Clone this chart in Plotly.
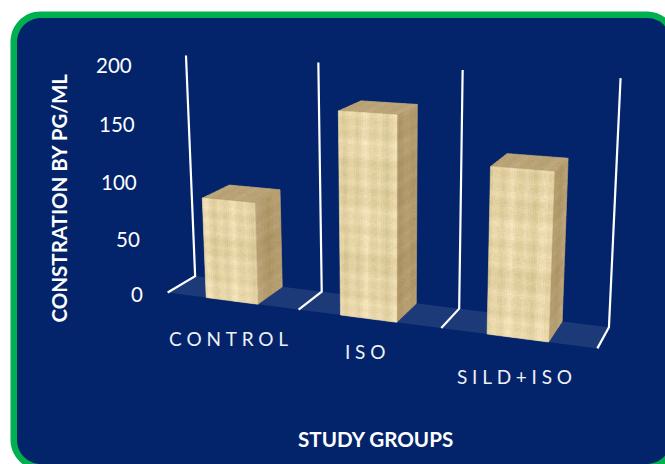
import math
import numpy as np
import plotly.graph_objects as go

# Chart content
groups = ["CONTROL", "ISO", "SILD+ISO"]
concentration = [88, 170, 135]
value_ticks = [0, 50, 100, 150, 200]
value_max = 200
y_title = "CONSTRATION BY PG/ML"
x_title = "STUDY GROUPS"

# Box geometry in category units: width along the category axis, depth 0 (front) to 1 (back)
BAR_WIDTH = 0.394
SEP = "\u2005"  # letter spacing for the category labels

# Perspective of the 3-D view: (category, depth, value / 100, 1) -> canvas
VIEW = np.array([
    [121.1409115, 36.3899044, -9.2879556, 231.7567399],
    [4.3640775, -5.0005386, -118.6259112, 300.8692165],
    [-0.0420273, 0.0427482, -0.02375, 1.0],
])

W, H = 665, 464
NAVY, GREEN, FLOOR = "#03246B", "#00B050", "#1C3A78"


def view(cat, depth, value):
    h = VIEW @ np.array([cat, depth, value / 100.0, 1.0])
    return float(h[0] / h[2]), float(h[1] / h[2])


def weave(a, b):
    """Wood-like plaid in [-1, 1] from a pair of cell indices."""
    s = (0.34 * math.sin(a * 0.97 + 0.6) + 0.24 * math.sin(a * 0.41 + 2.1) + 0.07 * math.sin(a * 2.3)
         + 0.22 * math.sin(b * 1.13 + 1.1) + 0.20 * math.sin(b * 0.47) + 0.16 * math.sin(b * 0.19 + 0.4)
         + 0.05 * math.sin(a * 1.7 + b * 2.3))
    return max(-1.0, min(1.0, s))


LEVELS = 13
FACES = {
    "side": ((183, 158, 110), 11),
    "top": ((188, 165, 117), 8),
    "front": ((233, 215, 167), 17),
}
cells = {name: [([], []) for _ in range(LEVELS)] for name in FACES}


def add_face(name, corner, du, dv, nu, nv):
    for b in range(nv):
        for a in range(nu):
            level = int(round((weave(a + 3 * corner[0], b) + 1) / 2 * (LEVELS - 1)))
            xs, ys = cells[name][level]
            quad = [(a, b), (a + 1, b), (a + 1, b + 1), (a, b + 1), (a, b)]
            for qa, qb in quad:
                p = [corner[k] + du[k] * qa / nu + dv[k] * qb / nv for k in range(3)]
                x, y = view(*p)
                xs.append(x)
                ys.append(y)
            xs.append(None)
            ys.append(None)


for i, v in enumerate(concentration):
    left = i - BAR_WIDTH / 2
    rows = max(2, int(v / 2))
    add_face("side", (left + BAR_WIDTH, 0, 0), (0, 1, 0), (0, 0, v), 9, rows)
    add_face("top", (left, 0, v), (BAR_WIDTH, 0, 0), (0, 1, 0), 26, 6)
    add_face("front", (left, 0, 0), (BAR_WIDTH, 0, 0), (0, 0, v), 26, rows)

fig = go.Figure()

# Floor of the plot
edge_lo, edge_hi = -0.5, len(groups) - 0.5
floor = [view(edge_lo, 0, 0), view(edge_hi, 0, 0), view(edge_hi, 1, 0), view(edge_lo, 1, 0), view(edge_lo, 0, 0)]
fig.add_trace(go.Scatter(x=[p[0] for p in floor], y=[p[1] for p in floor], mode="lines", fill="toself",
                         fillcolor=FLOOR, line=dict(width=0), hoverinfo="skip"))

# Category dividers: up the back wall and forward across the floor
gx, gy = [], []
for c in np.arange(edge_lo, edge_hi + 1):
    for p in (view(c, 1, value_max), view(c, 1, 0), view(c, 0, 0)):
        gx.append(p[0])
        gy.append(p[1])
    gx.append(None)
    gy.append(None)
fig.add_trace(go.Scatter(x=gx, y=gy, mode="lines", line=dict(color="white", width=2.2), hoverinfo="skip"))

# Box faces, one trace per texture shade
for name, (base, amp) in FACES.items():
    for level, (xs, ys) in enumerate(cells[name]):
        if not xs:
            continue
        d = (level / (LEVELS - 1) * 2 - 1) * amp
        col = "rgb(%d,%d,%d)" % (base[0] + d, base[1] + d, base[2] + 1.4 * d)
        fig.add_trace(go.Scatter(x=xs, y=ys, mode="lines", fill="toself", fillcolor=col,
                                 line=dict(color=col, width=0.6), hoverinfo="skip"))


def rounded(x0, y0, x1, y1, r):
    k = r * 0.448
    return (f"M {x0} {y0 + r} C {x0} {y0 + k} {x0 + k} {y0} {x0 + r} {y0} L {x1 - r} {y0} "
            f"C {x1 - k} {y0} {x1} {y0 + k} {x1} {y0 + r} L {x1} {y1 - r} "
            f"C {x1} {y1 - k} {x1 - k} {y1} {x1 - r} {y1} L {x0 + r} {y1} "
            f"C {x0 + k} {y1} {x0} {y1 - k} {x0} {y1 - r} Z")


shapes = [
    dict(type="path", xref="x", yref="y", layer="below", path=rounded(10.5, 11.5, 677, 470, 30), fillcolor=GREEN, line_width=0),
    dict(type="path", xref="x", yref="y", layer="below", path=rounded(17, 18, 671, 464, 24), fillcolor=NAVY, line_width=0),
]

notes = []
for t in value_ticks:
    x, y = view(edge_lo, 0, t)
    notes.append(dict(x=x, y=y, text=str(t), showarrow=False, xanchor="right", xshift=-23, yshift=-1.5,
                      font=dict(size=20.5, color="white")))
label_drop = [38, 33, 38.5]
for i, g in enumerate(groups):
    x, y = view(i, 0, 0)
    notes.append(dict(x=x, y=y, text=SEP.join(g), showarrow=False, xshift=-3.5, yshift=-label_drop[i],
                      font=dict(size=19, color="#EEF1F6")))
notes.append(dict(x=375, y=439, text=x_title, showarrow=False, font=dict(size=20.6, color="white", weight="bold")))
notes.append(dict(x=58, y=198.5, text=y_title, showarrow=False, textangle=-90, font=dict(size=20.5, color="white", weight="bold")))

fig.update_layout(
    width=W, height=H, margin=dict(l=0, r=0, t=0, b=0), autosize=False,
    paper_bgcolor="white", plot_bgcolor="rgba(0,0,0,0)", showlegend=False,
    font=dict(family="Lato"), shapes=shapes, annotations=notes,
    xaxis=dict(visible=False, range=[0, W], domain=[0, 1], fixedrange=True),
    yaxis=dict(visible=False, range=[H, 0], domain=[0, 1], fixedrange=True),
)
fig.write_html("out.html", config=dict(displayModeBar=False))
